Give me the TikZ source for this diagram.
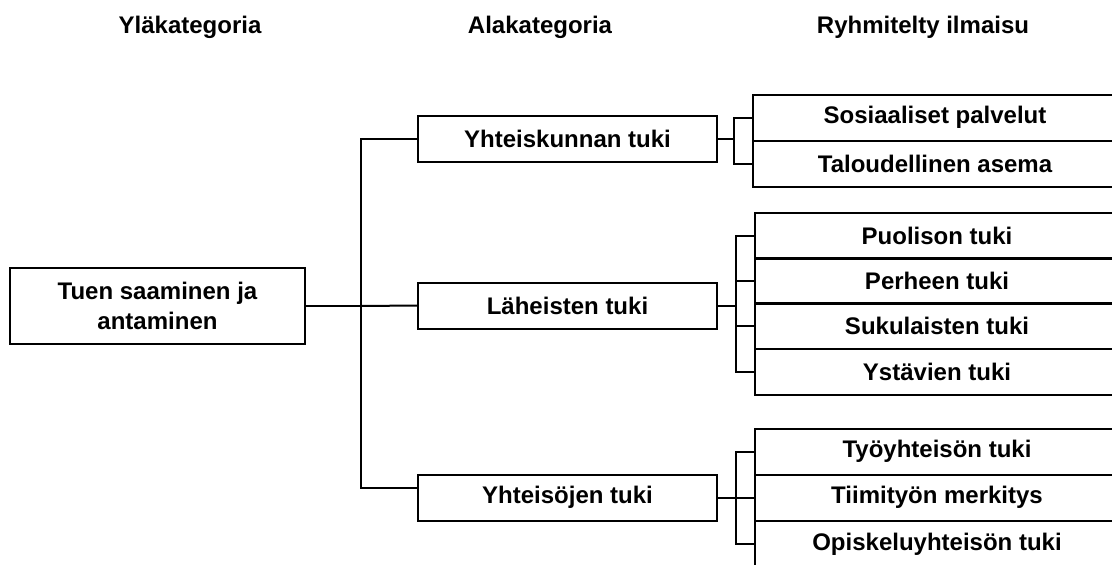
\documentclass[tikz,border=0pt]{standalone}
\usepackage{fontspec}
\setmainfont{Liberation Sans}
\usetikzlibrary{positioning}

\begin{document}
\begin{tikzpicture}[x=0.75pt,y=-0.75pt,
font=\fontsize{18}{22.5}\selectfont\bfseries,
line width=1.5pt,
top/.style={draw,align=center,minimum width=221.25pt,minimum height=57pt},
mid/.style={draw,minimum width=224.25pt,minimum height=34.5pt},
leaf/.style={draw,anchor=west,minimum width=273pt,minimum height=34.5pt}
]
\useasboundingbox (0,0) rectangle (1112,564);
\clip (0,0) rectangle (1112,564);

\node (h1) at (190,27) {Yläkategoria};
\node (h2) at (540,27) {Alakategoria};
\node (h3) at (923,27) {Ryhmitelty ilmaisu};

\node[top] (root) at (157.5,306) {Tuen saaminen ja\\antaminen};

\node[mid] (yk) at (567.5,139) {Yhteiskunnan tuki};
\node[mid] (lt) at (567.5,305.5) {Läheisten tuki};
\node[mid] (yt) at (567.5,497.5) {Yhteisöjen tuki};

% ryhmitellyt ilmaisut
\node[leaf] (sp) at (752,117.5) {Sosiaaliset palvelut};
\node[leaf] (ta) at (752,164) {Taloudellinen asema};
\node[leaf] (pu) at (754,236) {Puolison tuki};
\node[leaf] (pe) at (754,281) {Perheen tuki};
\node[leaf] (su) at (754,326) {Sukulaisten tuki};
\node[leaf] (ys) at (754,372) {Ystävien tuki};
\node[leaf] (ty) at (754,451.5) {Työyhteisön tuki};
\node[leaf] (ti) at (754,497.5) {Tiimityön merkitys};
\node[leaf] (op) at (754,544) {Opiskeluyhteisön tuki};

\coordinate (t0) at (361,306);
\coordinate (t1) at (361,139);
\coordinate (t3) at (361,488);
\draw[line width=2.2pt] (root.east) -- (t0);
\draw (yk.west) -- (t1) -- (t3) -- (yt.west |- t3);
\draw (t0) -- (lt.west);

\coordinate (b1) at (734,139);
\coordinate (b2) at (736,305.5);
\coordinate (b3) at (736,497.5);
\draw (yk.east) -- (b1);
\draw (lt.east) -- (b2);
\draw (yt.east) -- (b3);
\draw (sp.west) -| (b1) |- (ta.west);
\draw (pu.west) -| (b2) |- (ys.west);
\draw (pe.west) -- (pe.west -| b2);
\draw (su.west) -- (su.west -| b2);
\draw (ty.west) -| (b3) |- (op.west);
\draw (ti.west) -- (b3);
\end{tikzpicture}
\end{document}
